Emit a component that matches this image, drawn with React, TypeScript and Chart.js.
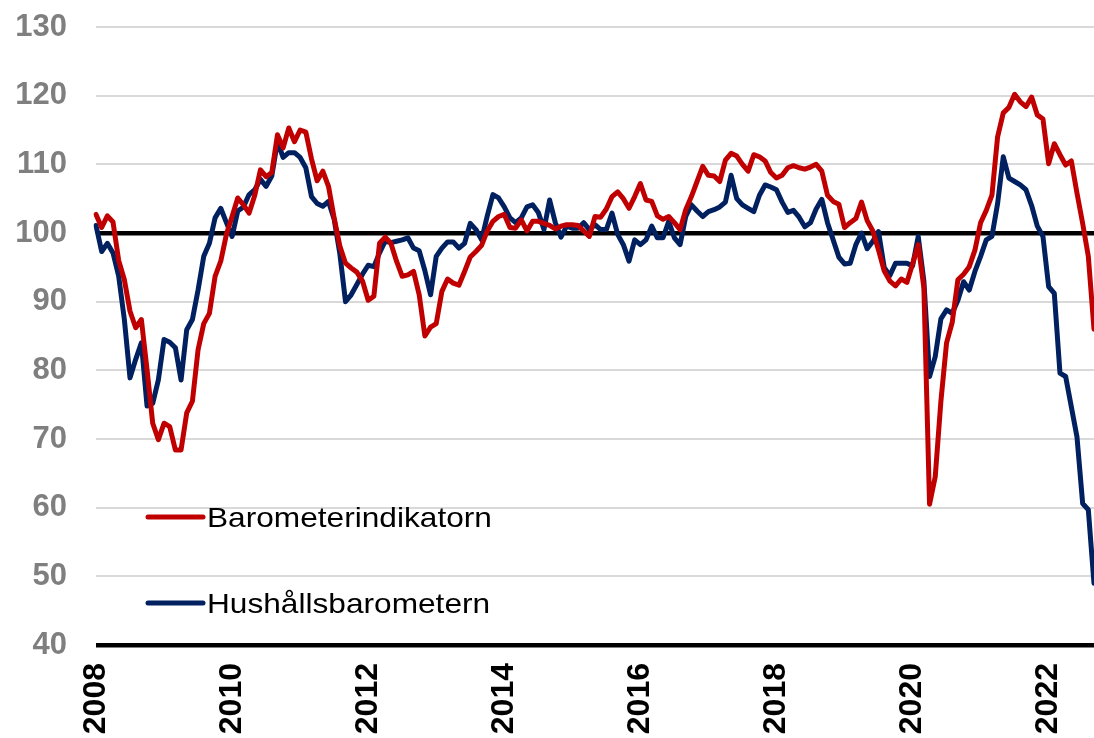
import React, { useEffect, useRef } from "react";
import { Chart, registerables } from "chart.js";

Chart.register(...registerables);

// Monthly data, January 2008 – September 2022
const START_YEAR = 2008;

const yearTickLabels = ["2008", "2010", "2012", "2014", "2016", "2018", "2020", "2022"];

const barometerindikatorn = [
  102.7, 100.8, 102.5, 101.6, 96, 93.2, 88.6, 86.2, 87.4, 80.1, 72.3, 69.9,
  72.3, 71.8, 68.4, 68.4, 73.8, 75.5, 83, 86.8, 88.3, 93.7, 95.9, 99.8,
  102.4, 105.1, 104.1, 102.9, 105.5, 109.2, 108.2, 108.8, 114.3, 112.4, 115.3, 113.3,
  115, 114.7, 110.8, 107.6, 109, 106.8, 102.2, 98.1, 95.6, 94.9, 94.3, 93,
  90.2, 90.8, 98.5, 99.4, 98.5, 95.9, 93.7, 93.9, 94.4, 91, 85, 86.3,
  86.8, 91.5, 93.3, 92.7, 92.4, 94.4, 96.5, 97.3, 98.2, 100.3, 101.7, 102.4,
  102.7, 100.8, 100.7, 101.9, 100.3, 101.7, 101.7, 101.4, 101.1, 100.6, 101, 101.2,
  101.2, 101.1, 100.3, 99.5, 102.4, 102.3, 103.5, 105.3, 106, 105, 103.6, 105.3,
  107.2, 104.8, 104.6, 102.5, 102, 102.4, 101.5, 100.5, 103.4, 105.3, 107.5, 109.7,
  108.4, 108.3, 107.5, 110.6, 111.6, 111.2, 110, 109, 111.4, 111.1, 110.5, 108.8,
  108, 108.4, 109.5, 109.8, 109.5, 109.3, 109.6, 110, 109, 105.5, 104.6, 104.2,
  100.8, 101.5, 102.1, 104.5, 101.8, 100.3, 97.5, 94.5, 93, 92.3, 93.3, 92.8,
  95.5, 98.3, 92, 60.5, 64.5, 75.5, 84, 87, 93.2, 94, 95.1, 97.5,
  101.5, 103.3, 105.5, 114, 117.5, 118.3, 120.2, 119.1, 118.4, 119.8, 117.2, 116.6,
  110.1, 113, 111.4, 109.9, 110.5, 105.8, 101.4, 96.6, 86,
];

const hushallsbarometern = [
  101.1, 97.3, 98.5, 97.1, 93.7, 87.4, 78.9, 81.6, 84, 74.8, 75.2, 78.6,
  84.5, 84.1, 83.3, 78.6, 85.9, 87.4, 91.7, 96.6, 98.5, 102.2, 103.6, 101.5,
  99.5, 103.2, 103.8, 105.6, 106.3, 107.8, 106.8, 108.3, 113.3, 111, 111.7, 111.7,
  111, 109.5, 105.3, 104.3, 103.9, 104.6, 102, 97, 90, 91, 92.5, 94,
  95.3, 95.1, 97.1, 98.8, 98.6, 98.8, 99, 99.3, 97.8, 97.4, 94.5, 91,
  96.6, 97.8, 98.7, 98.7, 97.8, 98.5, 101.4, 100.5, 99, 102.5, 105.6, 105.1,
  103.8, 102.2, 101.5, 102.2, 103.8, 104.1, 103, 100.5, 104.8, 101.5, 99.4, 101,
  100.7, 100.7, 101.5, 100.5, 101.2, 100.5, 100.5, 102.9, 99.8, 98.3, 95.9, 99,
  98.3, 99, 101, 99.3, 99.3, 101.7, 99.3, 98.3, 102.4, 104.1, 103.2, 102.4,
  103.1, 103.4, 103.8, 104.5, 108.4, 105, 104.1, 103.6, 103.1, 105.5, 107, 106.7,
  106.3, 104.5, 103, 103.3, 102.3, 100.9, 101.5, 103.5, 104.9, 101.5, 99, 96.5,
  95.5, 95.6, 98.3, 100, 97.7, 98.8, 100.2, 95, 93.8, 95.6, 95.6, 95.6,
  95.2, 99.5, 93, 79.1, 82, 87.5, 88.8, 88.3, 90.2, 92.9, 91.7, 94.4,
  96.6, 99, 99.5, 104.3, 111.1, 108, 107.5, 107, 106.3, 104, 101, 99.5,
  92.2, 91.2, 79.6, 79.1, 74.7, 70.3, 60.6, 59.7, 49,
];

const seriesNames = ["Barometerindikatorn", "Hushållsbarometern"];
const seriesColors = ["#C00000", "#002060"];

const Y_MIN = 40;
const Y_MAX = 130;
const Y_STEP = 10;
const REFERENCE_LEVEL = 100;

const monthLabels: string[] = barometerindikatorn.map((_, i) => {
  const y = START_YEAR + Math.floor(i / 12);
  const m = (i % 12) + 1;
  return `${y}-${m < 10 ? "0" + m : m}`;
});

const FONT = "'Liberation Sans', Arial, Helvetica, sans-serif";

const insideLegend = {
  id: "insideLegend",
  afterDatasetsDraw(chart: any) {
    const { ctx, chartArea } = chart;
    const rows = [517, 603];
    ctx.save();
    chart.data.datasets.forEach((ds: any, i: number) => {
      const y = rows[i];
      const x0 = chartArea.left + 52;
      const x1 = chartArea.left + 107;
      ctx.beginPath();
      ctx.strokeStyle = ds.borderColor;
      ctx.lineWidth = 5;
      ctx.lineCap = "round";
      ctx.moveTo(x0, y);
      ctx.lineTo(x1, y);
      ctx.stroke();
      ctx.save();
      ctx.translate(chartArea.left + 111, y + 10);
      ctx.scale(1.13, 1);
      ctx.fillStyle = "#000000";
      ctx.font = `28px ${FONT}`;
      ctx.textAlign = "left";
      ctx.textBaseline = "alphabetic";
      ctx.fillText(ds.label, 0, 0);
      ctx.restore();
    });
    ctx.restore();
  },
};

export default function App() {
  const canvasRef = useRef<HTMLCanvasElement | null>(null);

  useEffect(() => {
    document.body.style.margin = "0";
    document.body.style.overflow = "hidden";
    const canvas = canvasRef.current;
    if (!canvas) return;
    const chart = new Chart(canvas, {
      type: "line",
      data: {
        labels: monthLabels,
        datasets: [
          {
            label: seriesNames[0],
            data: barometerindikatorn,
            borderColor: seriesColors[0],
            backgroundColor: seriesColors[0],
            borderWidth: 5,
            pointRadius: 0,
            tension: 0,
            borderJoinStyle: "round",
            borderCapStyle: "round",
          },
          {
            label: seriesNames[1],
            data: hushallsbarometern,
            borderColor: seriesColors[1],
            backgroundColor: seriesColors[1],
            borderWidth: 5,
            pointRadius: 0,
            tension: 0,
            borderJoinStyle: "round",
            borderCapStyle: "round",
          },
        ],
      },
      options: {
        animation: false,
        responsive: false,
        devicePixelRatio: 1,
        layout: { padding: { top: 27, right: 0, left: 0, bottom: 0 } },
        plugins: {
          legend: { display: false },
          tooltip: { enabled: false },
        },
        scales: {
          x: {
            type: "category",
            offset: false,
            grid: { display: false, drawTicks: false },
            border: { display: false },
            ticks: {
              autoSkip: false,
              minRotation: 90,
              maxRotation: 90,
              padding: 18,
              color: "#000000",
              font: { family: FONT, size: 32, weight: "bold" },
              callback: (_v: any, index: number) => {
                const lab = monthLabels[index];
                const year = lab.slice(0, 4);
                if (lab.endsWith("-01") && yearTickLabels.includes(year)) return year;
                return "";
              },
            },
            afterFit: (scale: any) => {
              scale.height = 93;
              scale.paddingLeft = 0;
              scale.paddingRight = 0;
            },
          },
          y: {
            min: Y_MIN,
            max: Y_MAX,
            border: { display: false },
            grid: {
              drawTicks: false,
              color: (c: any) =>
                c.tick && (c.tick.value === REFERENCE_LEVEL || c.tick.value === Y_MIN)
                  ? "#000000"
                  : "#D9D9D9",
              lineWidth: (c: any) =>
                c.tick && (c.tick.value === REFERENCE_LEVEL || c.tick.value === Y_MIN) ? 4.5 : 2,
            },
            ticks: {
              stepSize: Y_STEP,
              padding: 29,
              color: "#7F7F7F",
              font: { family: FONT, size: 31, weight: "bold" },
            },
            afterFit: (scale: any) => {
              scale.width = 96;
              scale.paddingTop = 0;
              scale.paddingBottom = 0;
            },
          },
        },
      },
      plugins: [insideLegend],
    });
    return () => chart.destroy();
  }, []);

  return (
    <div style={{ width: 1094, height: 738, background: "#ffffff" }}>
      <canvas ref={canvasRef} width={1094} height={738} style={{ display: "block" }} />
    </div>
  );
}
